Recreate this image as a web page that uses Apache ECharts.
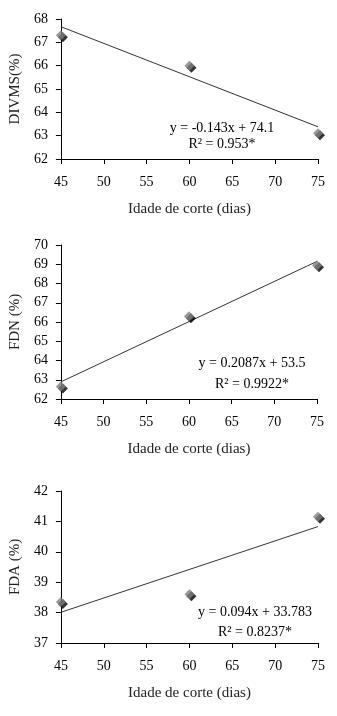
<!DOCTYPE html>
<html><head><meta charset="utf-8">
<script src="https://cdn.jsdelivr.net/npm/echarts@6/dist/echarts.min.js"></script>
<style>html,body{margin:0;padding:0;background:#fff}#c{width:337px;height:716px}</style>
</head><body><div id="c"></div>
<script>
var days = [45, 60, 75];
var divms = [67.3, 66.0, 63.1];
var fdn = [62.65, 66.3, 68.95];
var fda = [38.35, 38.6, 41.15];
var trendX = [45, 75];
var divmsTrend = [67.67, 63.38];
var fdnTrend = [62.89, 69.15];
var fdaTrend = [38.01, 40.83];
var xTicks = [45, 50, 55, 60, 65, 70, 75];
var panels = [
  {name: 'DIVMS(%)', data: divms, trend: divmsTrend, min: 62, max: 68, eq: 'y = -0.143x + 74.1', r2: 'R² = 0.953*', top: 19, height: 140, left: 60, right: 19, eqX: 222, eqY: 128, r2Y: 144},
  {name: 'FDN (%)', data: fdn, trend: fdnTrend, min: 62, max: 70, eq: 'y = 0.2087x + 53.5', r2: 'R² = 0.9922*', top: 245, height: 154, left: 58, right: 20, eqX: 252, eqY: 363, r2Y: 384},
  {name: 'FDA (%)', data: fda, trend: fdaTrend, min: 37, max: 42, eq: 'y = 0.094x + 33.783', r2: 'R² = 0.8237*', top: 491, height: 152, left: 57, right: 19, eqX: 255, eqY: 612, r2Y: 632}
];
var font = 'Liberation Serif';
var grids = [], xAxes = [], yAxes = [], series = [], graphics = [];
panels.forEach(function (p, i) {
  grids.push({left: p.left, right: p.right, top: p.top, height: p.height});
  xAxes.push({type: 'value', gridIndex: i, min: 45, max: 75, interval: 5,
    name: 'Idade de corte (dias)', nameLocation: 'middle', nameGap: 43,
    nameTextStyle: {fontFamily: font, fontSize: 15, color: '#222'},
    axisLine: {lineStyle: {color: '#000', width: 1}},
    axisTick: {show: true, length: 5, lineStyle: {color: '#000'}},
    axisLabel: {fontFamily: font, fontSize: 14, color: '#000', margin: 16},
    splitLine: {show: false}});
  yAxes.push({type: 'value', gridIndex: i, min: p.min, max: p.max, interval: 1,
    name: p.name, nameLocation: 'middle', nameGap: 37,
    nameTextStyle: {fontFamily: font, fontSize: 15, color: '#222'},
    axisLine: {show: true, lineStyle: {color: '#000', width: 1}},
    axisTick: {show: true, length: 5, lineStyle: {color: '#000'}},
    axisLabel: {fontFamily: font, fontSize: 14, color: '#000', margin: 13},
    splitLine: {show: false}});
  series.push({type: 'line', xAxisIndex: i, yAxisIndex: i, symbol: 'none',
    data: trendX.map(function (x, k) { return [x, p.trend[k]]; }),
    lineStyle: {color: '#333', width: 1}, silent: true, z: 2});
  var pts = days.map(function (x, k) { return [x, p.data[k]]; });
  series.push({type: 'scatter', xAxisIndex: i, yAxisIndex: i, symbol: 'diamond', symbolSize: 10,
    symbolOffset: [2, 2], data: pts, itemStyle: {color: '#000'}, z: 3, silent: true});
  series.push({type: 'scatter', xAxisIndex: i, yAxisIndex: i, symbol: 'diamond', symbolSize: 10,
    data: pts, itemStyle: {color: '#808080'}, z: 4, silent: true});
  graphics.push({type: 'text', x: p.eqX, y: p.eqY, style: {text: p.eq, font: '14px "' + font + '"', fill: '#000', align: 'center', verticalAlign: 'middle'}});
  graphics.push({type: 'text', x: p.eqX, y: p.r2Y, style: {text: p.r2, font: '14px "' + font + '"', fill: '#000', align: 'center', verticalAlign: 'middle'}});
});
var chart = echarts.init(document.getElementById('c'), null, {renderer: 'canvas'});
chart.setOption({animation: false, grid: grids, xAxis: xAxes, yAxis: yAxes, series: series, graphic: graphics});
</script></body></html>
